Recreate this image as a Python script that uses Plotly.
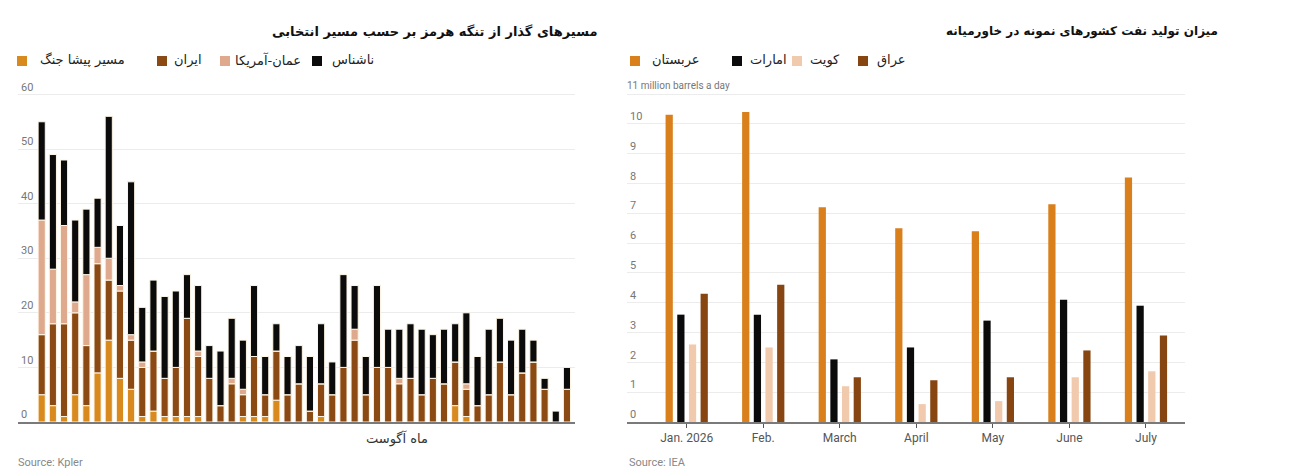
import numpy as np
import plotly.graph_objects as go

# page body has an 8px margin, so the figure is a bit smaller and all
# reference pixel positions are shifted by OFF
OFF = 8
W, H = 1284, 464

# --- left chart: daily transits of the Strait of Hormuz by route (August)
days = list(range(1, 49))
prewar = [5, 3, 1, 5, 3, 9, 15, 8, 6, 1, 2, 1, 1, 1, 1, 0, 0, 0, 1, 1, 1, 4, 0, 0,
          0, 1, 0, 0, 0, 0, 0, 0, 0, 0, 0, 0, 0, 3, 1, 0, 0, 0, 0, 0, 0, 0, 0, 0]
iran = [11, 15, 17, 15, 11, 20, 11, 16, 9, 9, 11, 7, 9, 18, 11, 8, 3, 7, 4, 11, 4, 9, 5, 7,
        2, 6, 5, 10, 15, 5, 10, 10, 7, 8, 5, 8, 7, 8, 5, 3, 5, 11, 5, 9, 11, 6, 0, 6]
oman_us = [21, 10, 18, 2, 13, 3, 4, 1, 1, 1, 0, 0, 0, 0, 1, 0, 0, 1, 1, 0, 0, 0, 0, 0,
           0, 0, 0, 0, 2, 0, 0, 0, 1, 0, 0, 0, 0, 0, 1, 0, 0, 0, 0, 0, 0, 0, 0, 0]
unknown = [18, 21, 12, 15, 12, 9, 26, 11, 28, 10, 13, 15, 14, 8, 12, 6, 10, 11, 9, 13, 7, 5, 7, 7,
           10, 11, 6, 17, 8, 7, 15, 7, 9, 10, 12, 8, 10, 7, 13, 9, 12, 8, 10, 8, 4, 2, 2, 4]
route_names = ["مسیر پیشا جنگ", "ایران", "عمان-آمریکا", "ناشناس"]
route_colors = ["#d98a1f", "#8b4a13", "#dea98c", "#0b0b0b"]

# --- right chart: oil output, million barrels a day
months = ["Jan. 2026", "Feb.", "March", "April", "May", "June", "July"]
saudi = [10.3, 10.4, 7.2, 6.5, 6.4, 7.3, 8.2]
uae = [3.6, 3.6, 2.1, 2.5, 3.4, 4.1, 3.9]
kuwait = [2.6, 2.5, 1.2, 0.6, 0.7, 1.5, 1.7]
iraq = [4.3, 4.6, 1.5, 1.4, 1.5, 2.4, 2.9]
country_names = ["عربستان", "امارات", "کویت", "عراق"]
country_colors = ["#d97f1b", "#0b0b0b", "#f1c9ac", "#874512"]

fa_font = "DejaVu Sans, Noto Sans, sans-serif"
num_font = "Liberation Sans Narrow, Roboto, sans-serif"


def fx(px):
    return (px - OFF) / W


def fy(py):
    return 1 - (py - OFF) / H


fig = go.Figure()

# stacked bars drawn with explicit base so the right chart can stay grouped
stack = np.zeros(len(days))
for name, vals, col in zip(route_names, [prewar, iran, oman_us, unknown], route_colors):
    fig.add_trace(go.Bar(
        x=days, y=vals, base=stack.copy(), name=name,
        marker=dict(color=col, line=dict(color="#fff6e6", width=1)),
        width=0.64, offset=-0.32, showlegend=False,
        xaxis="x", yaxis="y",
    ))
    stack = stack + np.array(vals)

for name, vals, col in zip(country_names, [saudi, uae, kuwait, iraq], country_colors):
    fig.add_trace(go.Bar(
        x=months, y=vals, name=name, marker=dict(color=col, line=dict(width=0)),
        showlegend=False, xaxis="x2", yaxis="y2",
    ))

# y=0 at 422px; plot area reaches up to 80px so the top tick labels fit inside
ydom = [fy(422), fy(80)]
left_unit = (422 - 94.5) / 60
right_unit = (422 - 94) / 11

fig.update_layout(
    width=W, height=H, autosize=False,
    margin=dict(l=0, r=0, t=0, b=0),
    paper_bgcolor="white", plot_bgcolor="white",
    barmode="group", bargap=0.39, bargroupgap=0.38,
    font=dict(family=fa_font, color="#222"),
    showlegend=False,
    xaxis=dict(domain=[fx(18), fx(575)], range=[-1.12, 48.72], showticklabels=False,
               ticks="", showgrid=False, zeroline=False,
               showline=True, linecolor="#7a7a7a", linewidth=1.5),
    yaxis=dict(domain=ydom, range=[0, (422 - 80) / left_unit], tickvals=[0, 10, 20, 30, 40, 50, 60],
               ticklabelposition="inside top", showgrid=True, gridcolor="#ececec",
               zeroline=False, tickfont=dict(family=num_font, size=11, color="#777")),
    xaxis2=dict(domain=[fx(627), fx(1185)], range=[-0.78, 6.51], anchor="y2",
                ticks="outside", ticklen=4, tickcolor="#555", showgrid=False,
                zeroline=False, showline=True, linecolor="#7a7a7a", linewidth=1.5,
                tickfont=dict(family=num_font, size=12, color="#555")),
    yaxis2=dict(domain=ydom, range=[0, (422 - 80) / right_unit], anchor="x2",
                tickvals=list(range(12)),
                ticktext=[str(i) for i in range(11)] + [""],
                ticklabelposition="inside top", showgrid=True, gridcolor="#ececec",
                zeroline=False, tickfont=dict(family=num_font, size=11, color="#777")),
)

# unit label on the top gridline (kept out of the tick labels so the
# first month label is not hidden by plotly's overlap check)
fig.add_annotation(text="11 million barrels a day", x=fx(625), y=11, xref="paper", yref="y2",
                   xanchor="left", yanchor="bottom", yshift=1, showarrow=False,
                   font=dict(size=10, family=num_font, color="#777"))

# hand-placed legends (square + label) matching the reference layout
legend_left = [(17, 38), (157, 172), (220, 233), (312, 330)]
legend_right = [(630, 650), (732, 748), (792, 808), (858, 875)]
for names, cols, spots in [(route_names, route_colors, legend_left),
                           (country_names, country_colors, legend_right)]:
    for name, col, (sq, tx) in zip(names, cols, spots):
        fig.add_shape(type="rect", xref="paper", yref="paper",
                      x0=fx(sq), x1=fx(sq + 10), y0=fy(66), y1=fy(56),
                      fillcolor=col, line_width=0)
        fig.add_annotation(text=name, x=fx(tx), y=fy(60.5), xref="paper", yref="paper",
                           xanchor="left", yanchor="middle", showarrow=False,
                           font=dict(size=13, family=fa_font, color="#222"))

notes = [
    ("مسیرهای گذار از تنگه هرمز بر حسب مسیر انتخابی", 599, 32, "right", 13, "#111", True),
    ("میزان تولید نفت کشورهای نمونه در خاورمیانه", 1220, 32, "right", 12, "#111", True),
    ("ماه آگوست", 397, 438, "center", 13, "#333", False),
    ("Source: Kpler", 16, 462, "left", 11, "#888", False),
    ("Source: IEA", 627, 462, "left", 11, "#888", False),
]
for text, px, py, anchor, size, col, bold in notes:
    fig.add_annotation(
        text=f"<b>{text}</b>" if bold else text,
        x=fx(px), y=fy(py), xref="paper", yref="paper",
        xanchor=anchor, yanchor="middle", showarrow=False,
        font=dict(size=size, color=col, family=num_font if text.startswith("Source") else fa_font),
    )

fig.write_html("out.html")
